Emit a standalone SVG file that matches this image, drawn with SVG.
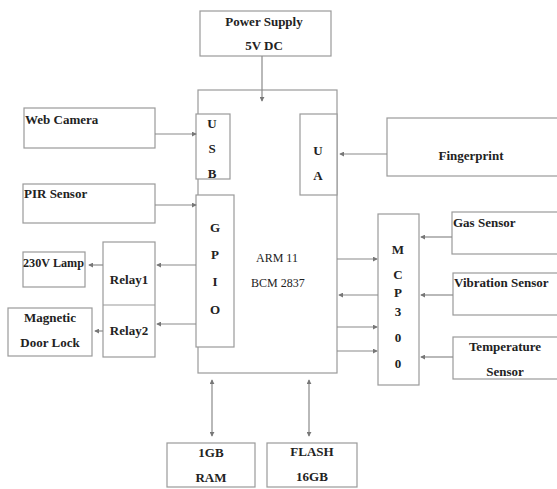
<svg xmlns="http://www.w3.org/2000/svg" width="557" height="489" viewBox="0 0 557 489">
<style>
.b{fill:#fff;stroke:#9a9a9a;stroke-width:1.2}
.t{font-family:"Liberation Serif","Times New Roman",serif;font-weight:bold;font-size:13px;fill:#222}
.c{text-anchor:middle}
.l{stroke:#8a8a8a;stroke-width:1.2;fill:none}
</style>
<defs>
<marker id="a" viewBox="0 0 6 6" refX="5" refY="3" markerWidth="5" markerHeight="5" orient="auto" markerUnits="userSpaceOnUse"><path d="M0,0L6,3L0,6z" fill="#777"/></marker>
<marker id="s" viewBox="0 0 6 6" refX="1" refY="3" markerWidth="5" markerHeight="5" orient="auto" markerUnits="userSpaceOnUse"><path d="M6,0L0,3L6,6z" fill="#777"/></marker>
</defs>
<rect width="557" height="489" fill="#fff"/>
<g id="arm"><rect class="b" x="198" y="90" width="139" height="283"/>
<text class="t" x="256" y="262" style="font-weight:normal;font-size:12px">ARM 11</text>
<text class="t" x="251" y="287" style="font-weight:normal;font-size:12px">BCM 2837</text></g>
<g id="power"><rect class="b" x="200" y="11" width="131" height="45"/>
<text class="t c" x="264" y="26">Power Supply</text><text class="t c" x="264" y="50">5V DC</text></g>
<g id="usb"><rect class="b" x="196" y="114" width="34" height="65"/>
<text class="t c" x="212" y="128">U</text><text class="t c" x="212" y="153">S</text><text class="t c" x="212" y="178">B</text></g>
<g id="ua"><rect class="b" x="300" y="114" width="37" height="81"/>
<text class="t c" x="318" y="155">U</text><text class="t c" x="318" y="180">A</text></g>
<g id="webcam"><rect class="b" x="24" y="108" width="131" height="40"/><text class="t" x="25" y="124">Web Camera</text></g>
<g id="finger"><rect class="b" x="387" y="118" width="175" height="58"/><text class="t c" x="471" y="160">Fingerprint</text></g>
<g id="pir"><rect class="b" x="23" y="184" width="132" height="39"/><text class="t" x="24" y="198">PIR Sensor</text></g>
<g id="gpio"><rect class="b" x="196" y="195" width="38" height="152"/>
<text class="t c" x="215" y="232">G</text><text class="t c" x="215" y="259">P</text><text class="t c" x="215" y="286">I</text><text class="t c" x="215" y="314">O</text></g>
<g id="lamp"><rect class="b" x="23" y="252" width="62" height="35"/><text class="t" x="23" y="267" textLength="61" lengthAdjust="spacingAndGlyphs">230V Lamp</text></g>
<g id="relay"><rect class="b" x="103" y="242" width="52" height="115"/><line class="b" x1="103" y1="305" x2="155" y2="305"/>
<text class="t c" x="129" y="284">Relay1</text><text class="t c" x="129" y="335">Relay2</text></g>
<g id="door"><rect class="b" x="8" y="308" width="84" height="48"/>
<text class="t c" x="50" y="322">Magnetic</text><text class="t c" x="50" y="347">Door Lock</text></g>
<g id="mcp"><rect class="b" x="378" y="214" width="41" height="171"/>
<text class="t c" x="398" y="254">M</text><text class="t c" x="398" y="279">C</text><text class="t c" x="398" y="297">P</text><text class="t c" x="398" y="316">3</text><text class="t c" x="398" y="342">0</text><text class="t c" x="398" y="368">0</text></g>
<g id="gas"><rect class="b" x="452" y="212" width="110" height="42"/><text class="t" x="453" y="227">Gas Sensor</text></g>
<g id="vib"><rect class="b" x="453" y="273" width="110" height="42"/><text class="t" x="454" y="287">Vibration Sensor</text></g>
<g id="temp"><rect class="b" x="453" y="337" width="110" height="42"/>
<text class="t c" x="505" y="351">Temperature</text><text class="t c" x="505" y="376">Sensor</text></g>
<g id="ram"><rect class="b" x="167" y="443" width="88" height="44"/>
<text class="t c" x="211" y="457">1GB</text><text class="t c" x="211" y="482">RAM</text></g>
<g id="flash"><rect class="b" x="267" y="443" width="90" height="44"/>
<text class="t c" x="312" y="456">FLASH</text><text class="t c" x="312" y="481">16GB</text></g>
<g id="connectors">
<line class="l" x1="262" y1="56" x2="262" y2="101" marker-end="url(#a)"/>
<line class="l" x1="155" y1="134" x2="196" y2="134" marker-end="url(#a)"/>
<line class="l" x1="387" y1="154" x2="340" y2="154" marker-end="url(#a)"/>
<line class="l" x1="155" y1="205" x2="196" y2="205" marker-end="url(#a)"/>
<line class="l" x1="196" y1="265" x2="157" y2="265" marker-end="url(#a)"/>
<line class="l" x1="196" y1="324" x2="157" y2="324" marker-end="url(#a)"/>
<line class="l" x1="103" y1="265" x2="89" y2="265" marker-end="url(#a)"/>
<line class="l" x1="103" y1="331" x2="95" y2="331" marker-end="url(#a)"/>
<line class="l" x1="337" y1="259" x2="377" y2="259" marker-end="url(#a)"/>
<line class="l" x1="378" y1="295" x2="339" y2="295" marker-end="url(#a)"/>
<line class="l" x1="337" y1="327" x2="377" y2="327" marker-end="url(#a)"/>
<line class="l" x1="337" y1="351" x2="377" y2="351" marker-end="url(#a)"/>
<line class="l" x1="452" y1="237" x2="421" y2="237" marker-end="url(#a)"/>
<line class="l" x1="453" y1="295" x2="421" y2="295" marker-end="url(#a)"/>
<line class="l" x1="453" y1="357" x2="421" y2="357" marker-end="url(#a)"/>
<line class="l" x1="212" y1="380" x2="212" y2="436" marker-start="url(#s)" marker-end="url(#a)"/>
<line class="l" x1="309" y1="380" x2="309" y2="436" marker-start="url(#s)" marker-end="url(#a)"/>
</g>
</svg>
